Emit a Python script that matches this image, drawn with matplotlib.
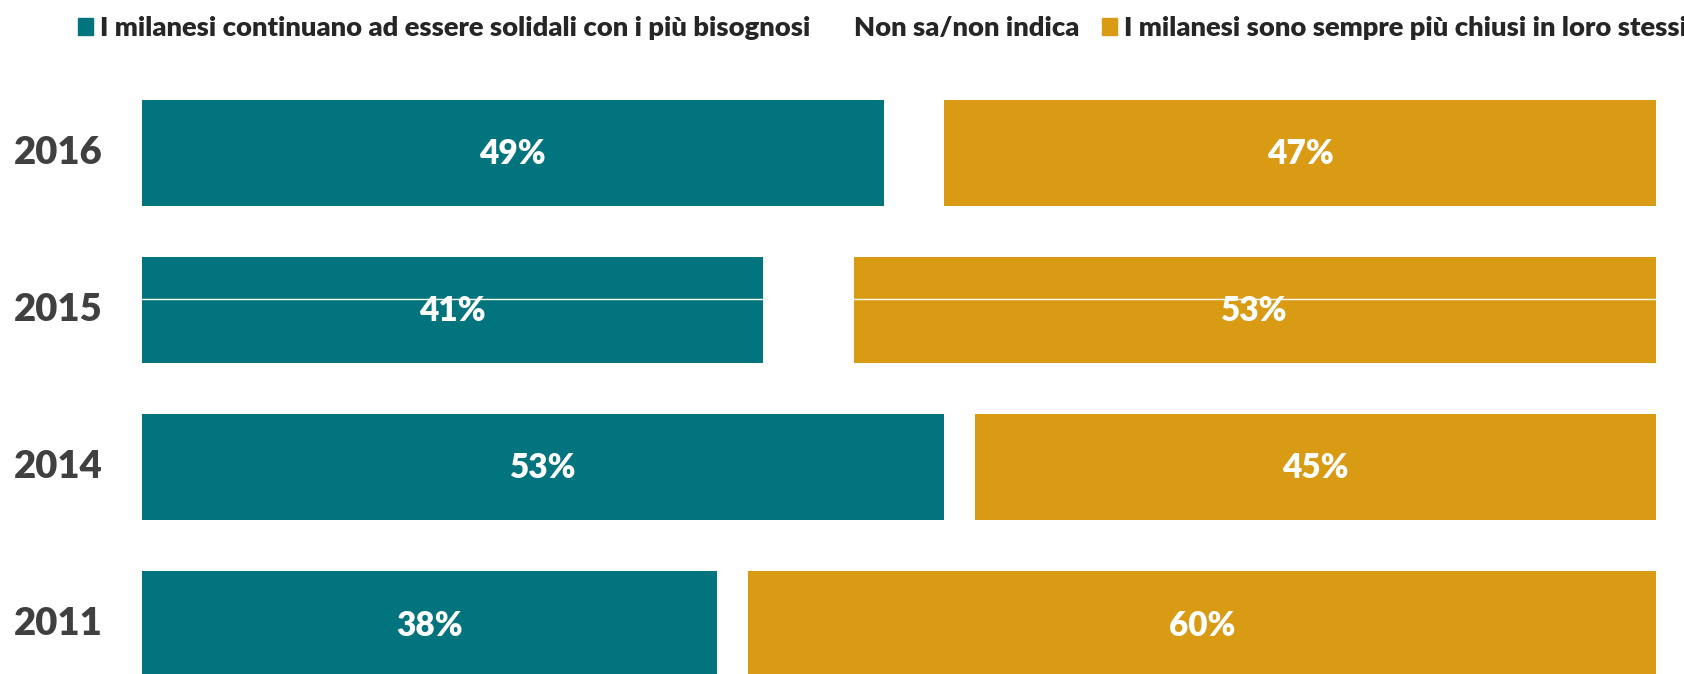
import matplotlib.pyplot as plt
from matplotlib.patches import Patch

years = ['2016', '2015', '2014', '2011']
solidali = [49, 41, 53, 38]
non_sa = [4, 6, 2, 2]
chiusi = [47, 53, 45, 60]

labels = ['I milanesi continuano ad essere solidali con i più bisognosi',
          'Non sa/non indica',
          'I milanesi sono sempre più chiusi in loro stessi']
teal = '#02747D'
gold = '#D99B13'

plt.rcParams['font.family'] = ['Lato', 'DejaVu Sans']

fig = plt.figure(figsize=(16.84, 6.74), dpi=100)
ax = fig.add_axes([0.0843, -0.0423, 0.899, 0.9325])

pos = list(range(len(years)))
h = 0.675
ax.barh(pos, solidali, height=h, color=teal)
ax.barh(pos, non_sa, left=solidali, height=h, color='white')
left3 = [a + b for a, b in zip(solidali, non_sa)]
ax.barh(pos, chiusi, left=left3, height=h, color=gold)

for i in pos:
    ax.text(solidali[i] / 2, i + 0.01, f'{solidali[i]}%', ha='center', va='center',
            color='white', fontsize=24, fontweight='heavy')
    ax.text(left3[i] + chiusi[i] / 2, i + 0.01, f'{chiusi[i]}%', ha='center', va='center',
            color='white', fontsize=24, fontweight='heavy')

# thin white artefact line across the 2015 bar
ax.axhline(0.93, color='white', lw=1)

ax.set_xlim(0, 100)
ax.set_ylim(3.5, -0.5)
ax.set_yticks(pos)
ax.set_yticklabels(years, fontsize=27.5, fontweight='heavy', color='#404040')
for t in ax.get_yticklabels():
    t.set_va('center')
ax.tick_params(axis='y', length=0, pad=28)
ax.set_xticks([])
for s in ax.spines.values():
    s.set_visible(False)

handles = [Patch(color=teal), Patch(color='white'), Patch(color=gold)]
fig.legend(handles, labels, loc='center', bbox_to_anchor=(0.524, 0.958), ncol=3,
           frameon=False, handlelength=0.55, handleheight=0.55, handletextpad=0.25,
           columnspacing=0.8, prop={'weight': 'heavy', 'size': 19.7})
for t in fig.legends[0].get_texts():
    t.set_color('#262626')

fig.savefig('out.png', dpi=100)
